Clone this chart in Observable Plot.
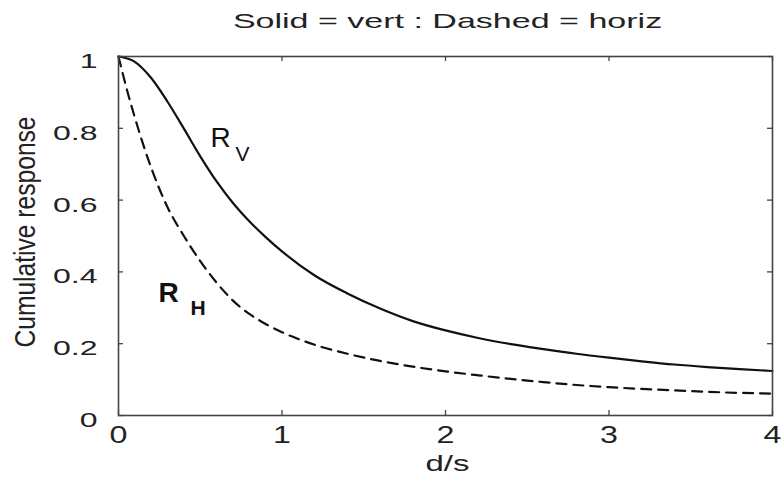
<!DOCTYPE html>
<html>
<head>
<meta charset="utf-8">
<script src="https://cdn.jsdelivr.net/npm/d3@7"></script>
<script src="https://cdn.jsdelivr.net/npm/@observablehq/plot@0.6"></script>
<style>
  html, body { margin: 0; padding: 0; background: #fff; }
  #chart svg { display: block; }
</style>
</head>
<body>
<div id="chart"></div>
<script>
// Cumulative response against d/s, vertical (solid) and horizontal (dashed)
const vertX = [0, 0.1, 0.2, 0.3, 0.4, 0.5, 0.6, 0.7, 0.8, 0.9, 1.0, 1.2, 1.4, 1.6, 1.8, 2.0, 2.2, 2.4, 2.6, 2.8, 3.0, 3.2, 3.4, 3.6, 3.8, 4.0];
const vertY = [1, 0.985, 0.94, 0.874, 0.799, 0.722, 0.652, 0.592, 0.541, 0.497, 0.457, 0.39, 0.34, 0.298, 0.263, 0.237, 0.216, 0.199, 0.185, 0.172, 0.161, 0.151, 0.142, 0.135, 0.129, 0.124];

const horizX = [0, 0.05, 0.1, 0.2, 0.3, 0.4, 0.5, 0.6, 0.7, 0.8, 0.9, 1.0, 1.2, 1.4, 1.6, 1.8, 2.0, 2.2, 2.4, 2.6, 2.8, 3.0, 3.2, 3.4, 3.6, 3.8, 4.0];
const horizY = [1, 0.91, 0.83, 0.69, 0.58, 0.5, 0.43, 0.37, 0.32, 0.283, 0.255, 0.232, 0.197, 0.172, 0.152, 0.136, 0.123, 0.112, 0.102, 0.093, 0.085, 0.079, 0.074, 0.07, 0.066, 0.063, 0.061];

const xTicks = [0, 1, 2, 3, 4];
const yTicks = [0, 0.2, 0.4, 0.6, 0.8, 1];

const titleText = "Solid = vert : Dashed = horiz";
const xLabel = "d/s";
const yLabel = "Cumulative response";

// curve annotations: main letter, subscript, anchor point in data units
const curveLabels = [
  {main: "R", sub: "V", x: 0.563, y: 0.772},
  {main: "R", sub: "H", x: 0.245, y: 0.342}
];

const vert = vertX.map((x, i) => ({x, y: vertY[i]}));
const horiz = horizX.map((x, i) => ({x, y: horizY[i]}));

const W = 782, H = 477;
const mL = 118, mR = 10, mT = 56, mB = 62;
const innerW = W - mL - mR, innerH = H - mT - mB;
const tick = 5;
const font = "'Liberation Sans', Arial, Helvetica, sans-serif";
const ink = "#111";
const axisInk = "#444";
const textInk = "#222";
const fmt = d3.format("~g");

const labelStyles = [
  {weight: "normal", subDx: 25},
  {weight: "bold", subDx: 32}
];

const plot = Plot.plot({
  width: W,
  height: H,
  marginLeft: mL,
  marginRight: mR,
  marginTop: mT,
  marginBottom: mB,
  style: {fontFamily: font, background: "#fff", color: textInk},
  x: {domain: [0, 4]},
  y: {domain: [0, 1]},
  marks: [
    Plot.line(vert, {x: "x", y: "y", curve: "monotone-x", stroke: ink, strokeWidth: 2.2}),
    Plot.line(horiz, {x: "x", y: "y", curve: "monotone-x", stroke: ink, strokeWidth: 2.2, strokeDasharray: "10,7"}),
    // inward ticks on all four sides of the box
    Plot.tickX(xTicks, {x: d => d, stroke: axisInk, strokeWidth: 1.3, insetTop: innerH - tick}),
    Plot.tickX(xTicks, {x: d => d, stroke: axisInk, strokeWidth: 1.3, insetBottom: innerH - tick}),
    Plot.tickY(yTicks, {y: d => d, stroke: axisInk, strokeWidth: 1.3, insetRight: innerW - tick}),
    Plot.tickY(yTicks, {y: d => d, stroke: axisInk, strokeWidth: 1.3, insetLeft: innerW - tick}),
    Plot.frame({stroke: axisInk, strokeWidth: 1.6}),
    Plot.axisX(xTicks, {anchor: "bottom", tickSize: 0, tickPadding: 11, fontSize: 23, tickFormat: fmt, label: null, fill: textInk}),
    Plot.axisY(yTicks, {anchor: "left", tickSize: 0, tickPadding: 21, fontSize: 20, dy: 5, tickFormat: fmt, label: null, fill: textInk}),
    Plot.text([titleText], {frameAnchor: "top", lineAnchor: "middle", dy: -35, dx: 2, fontSize: 21, fill: textInk}),
    Plot.text([xLabel], {frameAnchor: "bottom", lineAnchor: "middle", dy: 48, dx: 2, fontSize: 22, fill: textInk}),
    Plot.text([yLabel], {frameAnchor: "left", textAnchor: "middle", lineAnchor: "middle", dx: -93, dy: -4, rotate: -90, fontSize: 30, fill: textInk}),
    ...curveLabels.flatMap((l, i) => [
      Plot.text([l], {x: "x", y: "y", text: "main", textAnchor: "start", fontSize: 28, fontWeight: labelStyles[i].weight, fill: ink}),
      Plot.text([l], {x: "x", y: "y", text: "sub", textAnchor: "start", dx: labelStyles[i].subDx, dy: 16, fontSize: 21, fontWeight: labelStyles[i].weight === "bold" ? 600 : "normal", fill: ink})
    ])
  ]
});

document.getElementById("chart").append(plot);

// The figure's lettering is set wide: stretch horizontal text, squeeze the rotated label
function setLength(t, len) {
  t.setAttribute("textLength", len);
  t.setAttribute("lengthAdjust", "spacingAndGlyphs");
}
plot.querySelectorAll('g[aria-label="x-axis tick label"] text')
  .forEach(t => setLength(t, t.getComputedTextLength() * 1.4));
plot.querySelectorAll('g[aria-label="y-axis tick label"] text')
  .forEach(t => setLength(t, t.getComputedTextLength() * 1.6));
plot.querySelectorAll("text").forEach(t => {
  const s = t.textContent;
  if (s === titleText) setLength(t, t.getComputedTextLength() * 1.62);
  else if (s === xLabel) setLength(t, t.getComputedTextLength() * 1.5);
  else if (s === yLabel) setLength(t, t.getComputedTextLength() * 0.82);
});
</script>
</body>
</html>
